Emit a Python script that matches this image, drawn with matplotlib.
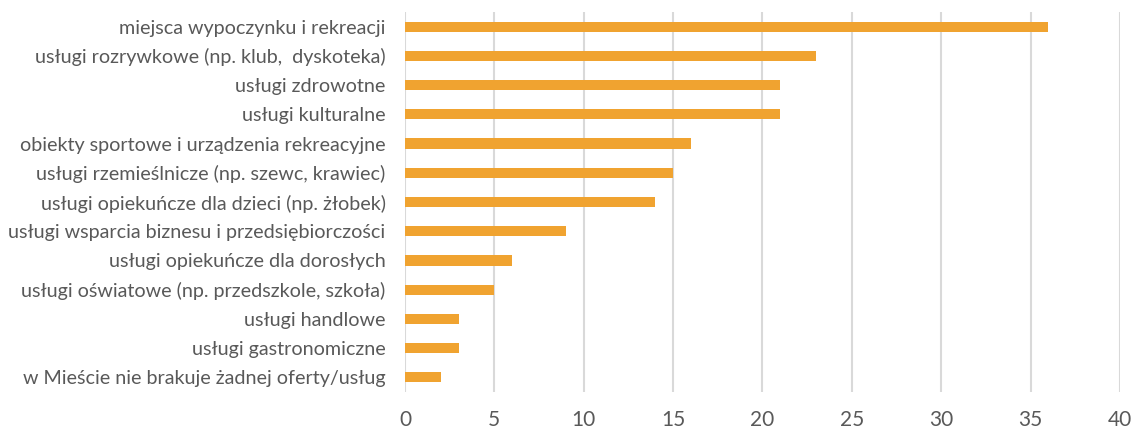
import matplotlib
matplotlib.use('Agg')
from matplotlib import pyplot as plt

# braki w ofercie usług w mieście - liczba wskazań
categories = [
    'miejsca wypoczynku i rekreacji',
    'usługi rozrywkowe (np. klub,  dyskoteka)',
    'usługi zdrowotne',
    'usługi kulturalne',
    'obiekty sportowe i urządzenia rekreacyjne',
    'usługi rzemieślnicze (np. szewc, krawiec)',
    'usługi opiekuńcze dla dzieci (np. żłobek)',
    'usługi wsparcia biznesu i przedsiębiorczości',
    'usługi opiekuńcze dla dorosłych',
    'usługi oświatowe (np. przedszkole, szkoła)',
    'usługi handlowe',
    'usługi gastronomiczne',
    'w Mieście nie brakuje żadnej oferty/usług',
]
values = [36, 23, 21, 21, 16, 15, 14, 9, 6, 5, 3, 3, 2]
x_ticks = [0, 5, 10, 15, 20, 25, 30, 35, 40]

plt.rcParams['font.family'] = ['Lato', 'DejaVu Sans']
text_color = '#595959'

fig = plt.figure(figsize=(11.36, 4.32), dpi=100)
ax = fig.add_axes([0.3565, 0.0926, 0.6294, 0.8796])

pos = list(range(len(categories)))
ax.barh(pos, values, height=0.35, color='#F0A330', zorder=3)

ax.set_yticks(pos)
ax.set_yticklabels(categories, fontsize=14.2, color=text_color)
ax.set_ylim(len(categories) - 0.5, -0.5)

ax.set_xlim(0, 40)
ax.set_xticks(x_ticks)
ax.set_xticklabels([str(t) for t in x_ticks], fontsize=15, color=text_color)
ax.xaxis.grid(True, color='#d9d9d9', linewidth=1.5, zorder=0)

ax.tick_params(axis='y', length=0, pad=14)
ax.tick_params(axis='x', length=0, pad=13)
for side in ['top', 'right', 'bottom', 'left']:
	ax.spines[side].set_visible(False)

fig.savefig('out.png', dpi=100)
